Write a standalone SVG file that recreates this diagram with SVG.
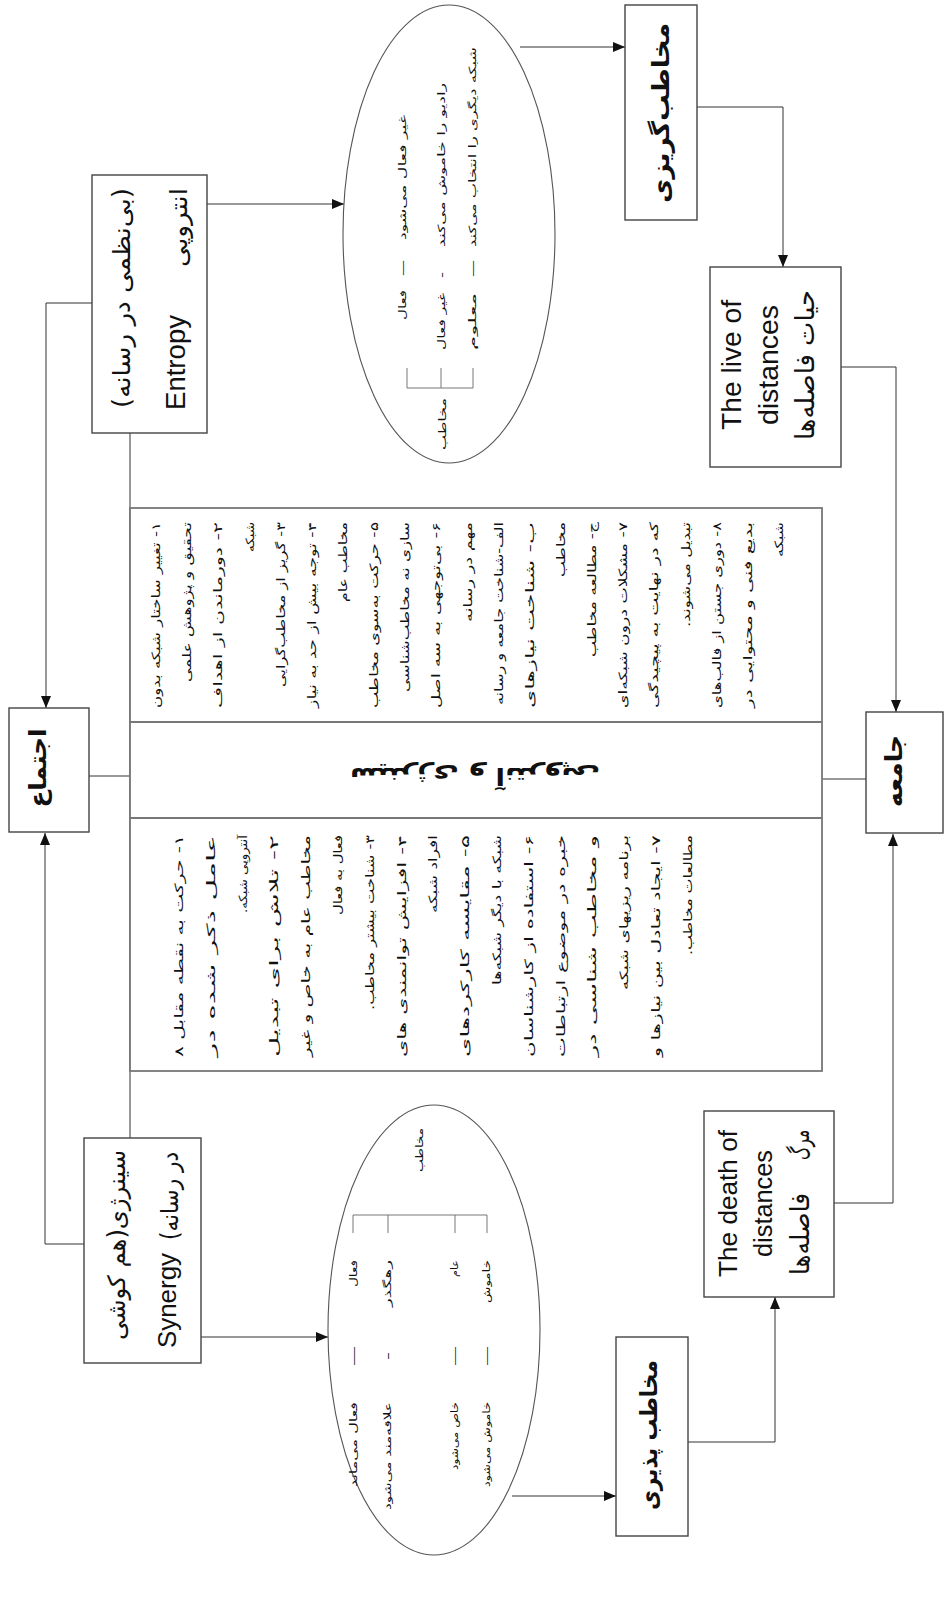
<svg xmlns="http://www.w3.org/2000/svg" width="946" height="1607" viewBox="0 0 946 1607">
<style>
.fa{font-family:'DejaVu Sans','Noto Sans',sans-serif;direction:rtl;unicode-bidi:embed;fill:#111;text-anchor:middle}
.en{font-family:'Liberation Sans',Arial,sans-serif;fill:#111;text-anchor:middle}
.s11{font-size:11.5px}
.s10{font-size:10px}
.s24{font-size:24px}
.b{font-weight:bold}
.box{fill:#fff;stroke:#444;stroke-width:1.4}
.ell{fill:#fff;stroke:#555;stroke-width:1.1}
.brk{fill:none;stroke:#777;stroke-width:1}
.tbl{fill:#fff;stroke:#777;stroke-width:1.8}
.div{stroke:#777;stroke-width:2.2}
</style>
<defs>
<marker id="arr" viewBox="0 0 12 10" refX="12" refY="5" markerWidth="12" markerHeight="10" markerUnits="userSpaceOnUse" orient="auto">
<path d="M0,0 L12,5 L0,10 z" fill="#111"/>
</marker>
</defs>
<rect width="946" height="1607" fill="#fff"/>

<g id="connectors" fill="none" stroke="#333" stroke-width="1">
<path d="M92,303 H46 V708" marker-end="url(#arr)"/>
<path d="M84,1244 H45 V833" marker-end="url(#arr)"/>
<path d="M130,433 V1138"/>
<path d="M89,776 H130"/>
<path d="M207,204 H344" marker-end="url(#arr)"/>
<path d="M520,47 H625" marker-end="url(#arr)"/>
<path d="M697,107 H783 V267" marker-end="url(#arr)"/>
<path d="M841,367 H896 V712" marker-end="url(#arr)"/>
<path d="M822,779 H866"/>
<path d="M834,1203 H893 V834" marker-end="url(#arr)"/>
<path d="M688,1442 H775 V1297" marker-end="url(#arr)"/>
<path d="M512,1496 H616" marker-end="url(#arr)"/>
<path d="M201,1337 H328" marker-end="url(#arr)"/>
</g>

<g id="node-table">
<rect class="tbl" x="130" y="508" width="692" height="563"/>
<line class="div" x1="130" y1="722" x2="822" y2="722"/>
<line class="div" x1="130" y1="818" x2="822" y2="818"/>
<text class="fa b s24" x="475" y="776.5" transform="rotate(180 475 772)" textLength="250" lengthAdjust="spacingAndGlyphs">سینرژی و آنتروپی</text>
<g transform="rotate(-90)">
<text class="fa s11" x="-615" y="160" textLength="186" lengthAdjust="spacingAndGlyphs">۱- تغییر ساختار شبکه بدون</text>
<text class="fa s11" x="-602" y="191" textLength="160" lengthAdjust="spacingAndGlyphs">تحقیق و پژوهش علمی</text>
<text class="fa s11" x="-615" y="222" textLength="186" lengthAdjust="spacingAndGlyphs">۲- دورماندن از اهداف</text>
<text class="fa s11" x="-537" y="253.5" textLength="30" lengthAdjust="spacingAndGlyphs">شبکه</text>
<text class="fa s11" x="-604.5" y="284.6" textLength="165" lengthAdjust="spacingAndGlyphs">۳- گریز از مخاطب‌گرایی</text>
<text class="fa s11" x="-615" y="315.8" textLength="186" lengthAdjust="spacingAndGlyphs">۴- توجه بیش از حد به نیاز</text>
<text class="fa s11" x="-562" y="346.9" textLength="80" lengthAdjust="spacingAndGlyphs">مخاطب عام</text>
<text class="fa s11" x="-615" y="378.1" textLength="186" lengthAdjust="spacingAndGlyphs">۵- حرکت به‌سوی مخاطب</text>
<text class="fa s11" x="-607" y="409.2" textLength="170" lengthAdjust="spacingAndGlyphs">سازی نه مخاطب‌شناسی</text>
<text class="fa s11" x="-615" y="440.4" textLength="186" lengthAdjust="spacingAndGlyphs">۶- بی‌توجهی به سه اصل</text>
<text class="fa s11" x="-572" y="471.5" textLength="100" lengthAdjust="spacingAndGlyphs">مهم در رسانه</text>
<text class="fa s11" x="-613.5" y="502.7" textLength="183" lengthAdjust="spacingAndGlyphs">الف-شناخت جامعه و رسانه</text>
<text class="fa s11" x="-615" y="533.8" textLength="186" lengthAdjust="spacingAndGlyphs">ب- شناخت نیازهای</text>
<text class="fa s11" x="-549.5" y="565" textLength="55" lengthAdjust="spacingAndGlyphs">مخاطب</text>
<text class="fa s11" x="-589.5" y="596.1" textLength="135" lengthAdjust="spacingAndGlyphs">ج- مطالعه مخاطب</text>
<text class="fa s11" x="-615" y="627.3" textLength="186" lengthAdjust="spacingAndGlyphs">۷- مشکلات درون شبکه‌ای</text>
<text class="fa s11" x="-615" y="658.4" textLength="186" lengthAdjust="spacingAndGlyphs">که در نهایت به پیچیدگی</text>
<text class="fa s11" x="-574.5" y="689.6" textLength="105" lengthAdjust="spacingAndGlyphs">تبدیل می‌شوند.</text>
<text class="fa s11" x="-615" y="720.7" textLength="186" lengthAdjust="spacingAndGlyphs">۸- دوری جستن از قالب‌های</text>
<text class="fa s11" x="-615" y="751.9" textLength="186" lengthAdjust="spacingAndGlyphs">بدیع فنی و محتوایی در</text>
<text class="fa s11" x="-539.5" y="783" textLength="35" lengthAdjust="spacingAndGlyphs">شبکه</text>

<text class="fa s11" x="-946" y="183" textLength="222" lengthAdjust="spacingAndGlyphs">۱- حرکت به نقطه مقابل ۸</text>
<text class="fa s11" x="-946" y="214.8" textLength="222" lengthAdjust="spacingAndGlyphs">عامل ذکر شده در</text>
<text class="fa s11" x="-874" y="246.6" textLength="78" lengthAdjust="spacingAndGlyphs">آنتروپی شبکه.</text>
<text class="fa s11" x="-946" y="278.4" textLength="222" lengthAdjust="spacingAndGlyphs">۲- تلاش برای تبدیل</text>
<text class="fa s11" x="-946" y="310.2" textLength="222" lengthAdjust="spacingAndGlyphs">مخاطب عام به خاص و غیر</text>
<text class="fa s11" x="-875" y="342" textLength="80" lengthAdjust="spacingAndGlyphs">فعال به فعال</text>
<text class="fa s11" x="-922.5" y="373.8" textLength="175" lengthAdjust="spacingAndGlyphs">۳- شناخت بیشتر مخاطب.</text>
<text class="fa s11" x="-946" y="405.6" textLength="222" lengthAdjust="spacingAndGlyphs">۴- افزایش توانمندی های</text>
<text class="fa s11" x="-874" y="437.4" textLength="78" lengthAdjust="spacingAndGlyphs">افراد شبکه</text>
<text class="fa s11" x="-946" y="469.2" textLength="222" lengthAdjust="spacingAndGlyphs">۵- مقایسه کارکردهای</text>
<text class="fa s11" x="-910" y="501" textLength="150" lengthAdjust="spacingAndGlyphs">شبکه با دیگر شبکه‌ها</text>
<text class="fa s11" x="-946" y="532.8" textLength="222" lengthAdjust="spacingAndGlyphs">۶- استفاده از کارشناسان</text>
<text class="fa s11" x="-946" y="564.6" textLength="222" lengthAdjust="spacingAndGlyphs">خبره در موضوع ارتباطات</text>
<text class="fa s11" x="-946" y="596.4" textLength="222" lengthAdjust="spacingAndGlyphs">و مخاطب شناسی در</text>
<text class="fa s11" x="-912.5" y="628.2" textLength="155" lengthAdjust="spacingAndGlyphs">برنامه ریزیهای شبکه</text>
<text class="fa s11" x="-946" y="660" textLength="222" lengthAdjust="spacingAndGlyphs">۷- ایجاد تعادل بین نیازها و</text>
<text class="fa s11" x="-895" y="691.8" textLength="120" lengthAdjust="spacingAndGlyphs">مطالعات مخاطب.</text>
</g>
</g>

<g id="node-entropy">
<rect class="box" x="92" y="175" width="115" height="258"/>
<g transform="rotate(-90)">
<text class="fa s24" x="-298" y="130" textLength="220" lengthAdjust="spacingAndGlyphs">(بی‌نظمی در رسانه)</text>
<text class="fa s24" x="-227.5" y="187" textLength="79" lengthAdjust="spacingAndGlyphs">انتروپی</text>
<text class="en" font-size="27" x="-362.5" y="185" textLength="95" lengthAdjust="spacingAndGlyphs">Entropy</text>
</g>
</g>

<g id="node-ejtema">
<rect class="box" x="9" y="708" width="80" height="124"/>
<g transform="rotate(-90)">
<text class="fa s24 b" x="-768" y="46" textLength="79" lengthAdjust="spacingAndGlyphs">اجتماع</text>
</g>
</g>

<g id="node-synergy">
<rect class="box" x="84" y="1138" width="117" height="225"/>
<g transform="rotate(-90)">
<text class="fa s24" x="-1245" y="125" textLength="190" lengthAdjust="spacingAndGlyphs">سینرژی(هم کوشی</text>
<text class="fa s24" x="-1196" y="178" textLength="88" lengthAdjust="spacingAndGlyphs">در رسانه)</text>
<text class="en" font-size="26" x="-1300.5" y="176" textLength="95" lengthAdjust="spacingAndGlyphs">Synergy</text>
</g>
</g>

<g id="node-entropy-audience">
<ellipse class="ell" cx="449" cy="234" rx="106" ry="229"/>
<path class="brk" d="M407,368 V388 H473 V368 M441,388 V368"/>
<g transform="rotate(-90)">
<text class="fa s10" x="-424" y="446" textLength="52" lengthAdjust="spacingAndGlyphs">مخاطب</text>
<text class="fa s10" x="-177.5" y="406" textLength="125" lengthAdjust="spacingAndGlyphs">غیر فعال می‌شود</text>
<text class="fa s10" x="-268" y="406" textLength="16" lengthAdjust="spacingAndGlyphs">—</text>
<text class="fa s10" x="-305" y="406" textLength="30" lengthAdjust="spacingAndGlyphs">فعال</text>
<text class="fa s10" x="-165" y="445" textLength="164" lengthAdjust="spacingAndGlyphs">رادیو را خاموش می‌کند</text>
<text class="fa s10" x="-275" y="445" textLength="6" lengthAdjust="spacingAndGlyphs">-</text>
<text class="fa s10" x="-321.5" y="445" textLength="57" lengthAdjust="spacingAndGlyphs">غیر فعال</text>
<text class="fa s10" x="-147" y="476" textLength="200" lengthAdjust="spacingAndGlyphs">شبکه دیگری را انتخاب می‌کند</text>
<text class="fa s10" x="-268.5" y="476" textLength="17" lengthAdjust="spacingAndGlyphs">—</text>
<text class="fa s10" x="-321.5" y="476" textLength="57" lengthAdjust="spacingAndGlyphs">معلوم</text>
</g>
</g>

<g id="node-synergy-audience">
<ellipse class="ell" cx="434" cy="1330" rx="106" ry="225"/>
<path class="brk" d="M353,1233 V1215 H487 V1233 M388,1215 V1233 M455,1215 V1233"/>
<g transform="rotate(-90)">
<text class="fa s10" x="-1150" y="423" textLength="44" lengthAdjust="spacingAndGlyphs">مخاطب</text>
<text class="fa s10" x="-1273.5" y="357" textLength="27" lengthAdjust="spacingAndGlyphs">فعال</text>
<text class="fa s10" x="-1356" y="357" textLength="20" lengthAdjust="spacingAndGlyphs">—</text>
<text class="fa s10" x="-1444.5" y="357" textLength="85" lengthAdjust="spacingAndGlyphs">فعال می‌ماند</text>
<text class="fa s10" x="-1283.5" y="391" textLength="47" lengthAdjust="spacingAndGlyphs">رهگذر</text>
<text class="fa s10" x="-1356" y="391" textLength="8" lengthAdjust="spacingAndGlyphs">-</text>
<text class="fa s10" x="-1456" y="391" textLength="108" lengthAdjust="spacingAndGlyphs">علاقه‌مند می‌شود</text>
<text class="fa s10" x="-1268.5" y="458" textLength="17" lengthAdjust="spacingAndGlyphs">عام</text>
<text class="fa s10" x="-1356" y="458" textLength="20" lengthAdjust="spacingAndGlyphs">—</text>
<text class="fa s10" x="-1436" y="458" textLength="68" lengthAdjust="spacingAndGlyphs">خاص می‌شود</text>
<text class="fa s10" x="-1281.5" y="490" textLength="43" lengthAdjust="spacingAndGlyphs">خاموش</text>
<text class="fa s10" x="-1356" y="490" textLength="20" lengthAdjust="spacingAndGlyphs">—</text>
<text class="fa s10" x="-1444.5" y="490" textLength="85" lengthAdjust="spacingAndGlyphs">خاموش می‌شود</text>
</g>
</g>

<g id="node-goriz">
<rect class="box" x="625" y="5" width="72" height="215"/>
<g transform="rotate(-90)">
<text class="fa s24 b" x="-113" y="669" textLength="180" lengthAdjust="spacingAndGlyphs">مخاطب‌گریزی</text>
</g>
</g>

<g id="node-pazir">
<rect class="box" x="616" y="1337" width="72" height="199"/>
<g transform="rotate(-90)">
<text class="fa s24 b" x="-1435" y="657" textLength="150" lengthAdjust="spacingAndGlyphs">مخاطب پذیری</text>
</g>
</g>

<g id="node-live">
<rect class="box" x="710" y="267" width="131" height="200"/>
<g transform="rotate(-90)">
<text class="en" font-size="28" x="-365" y="741" textLength="130" lengthAdjust="spacingAndGlyphs">The live of</text>
<text class="en" font-size="28" x="-365" y="778" textLength="120" lengthAdjust="spacingAndGlyphs">distances</text>
<text class="fa" font-size="26" x="-365" y="814" textLength="150" lengthAdjust="spacingAndGlyphs">حیات فاصله‌ها</text>
</g>
</g>

<g id="node-death">
<rect class="box" x="704" y="1111" width="130" height="186"/>
<g transform="rotate(-90)">
<text class="en" font-size="26" x="-1203.5" y="737" textLength="147" lengthAdjust="spacingAndGlyphs">The death of</text>
<text class="en" font-size="26" x="-1203.5" y="772" textLength="107" lengthAdjust="spacingAndGlyphs">distances</text>
<text class="fa" font-size="26" x="-1145" y="809" textLength="30" lengthAdjust="spacingAndGlyphs">مرگ</text>
<text class="fa" font-size="26" x="-1234" y="809" textLength="82" lengthAdjust="spacingAndGlyphs">فاصله‌ها</text>
</g>
</g>

<g id="node-jameeh">
<rect class="box" x="866" y="712" width="77" height="121"/>
<g transform="rotate(-90)">
<text class="fa s24 b" x="-771" y="902" textLength="72" lengthAdjust="spacingAndGlyphs">جامعه</text>
</g>
</g>
</svg>
